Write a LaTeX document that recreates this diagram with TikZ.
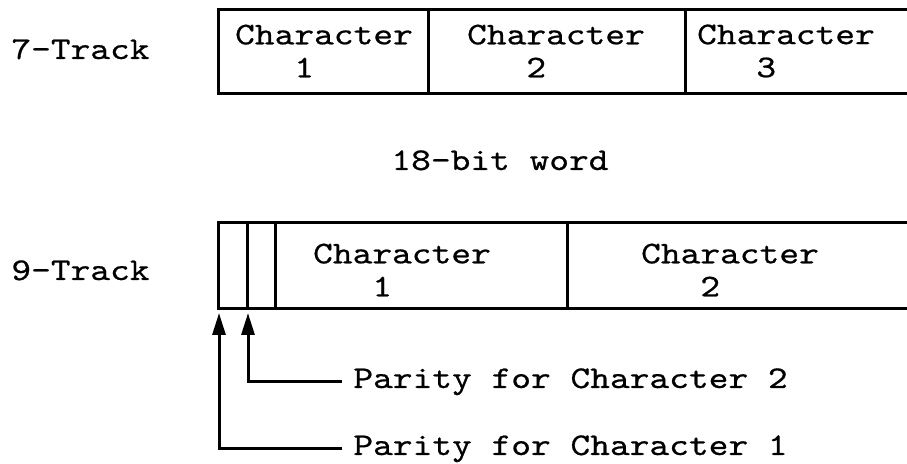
\documentclass[tikz,border=0pt]{standalone}
\usepackage{fontspec}
\setmonofont{lmmono10-regular.otf}[FakeStretch=1.19, FakeBold=0.6]
\usetikzlibrary{arrows.meta}

\begin{document}
\begin{tikzpicture}[x=0.5pt, y=-0.5pt,
    every node/.style={font=\ttfamily\fontsize{15.8}{16.5}\selectfont, inner sep=0pt},
    frame/.style={line width=1.5pt},
    cell/.style={align=left},
    track/.style={anchor=base west},
    parity/.style={anchor=base west, inner xsep=5.5pt},
    tap/.style={line width=1.5pt, -{Triangle[length=11pt, width=6.5pt]}}]

    \useasboundingbox (0,0) rectangle (907,464);

    % 7-track word: three characters
    \coordinate (t7nw) at (218,10);
    \coordinate (t7sw) at (218,94);
    \draw[frame] (907,10) -- (t7nw) -- (t7sw) -- (907,94);
    \draw[frame] (428,10) -- (428,94) (685,10) -- (685,94);
    \node[cell] (c71) at (324,51) {Character\\\hphantom{Cha}1};
    \node[cell] (c72) at (556,51) {Character\\\hphantom{Cha}2};
    \node[cell] (c73) at (786,51) {Character\\\hphantom{Cha}3};
    \node[track] (l7) at (11,59) {7-Track};

    \node[anchor=base] (word) at (500,170) {18-bit word};

    % 9-track word: two parity bits, two characters
    \coordinate (t9nw) at (218,223);
    \coordinate (t9sw) at (218,309);
    \draw[frame] (907,223) -- (t9nw) -- (t9sw) -- (907,309);
    \draw[frame] (247,223) -- (247,309) (275,223) -- (275,309)
        (567,223) -- (567,309);
    \node[cell] (c91) at (402,270) {Character\\\hphantom{Cha}1};
    \node[cell] (c92) at (730,270) {Character\\\hphantom{Cha}2};
    \node[track] (l9) at (11,280) {9-Track};

    % parity pointers
    \node[parity] (par2) at (342,388) {Parity for Character 2};
    \node[parity] (par1) at (342,455) {Parity for Character 1};
    \coordinate (p2tip) at (248,313);
    \coordinate (p1tip) at (219,313);
    \draw[tap] (par2.west) -| (p2tip);
    \draw[tap] (par1.west) -| (p1tip);
\end{tikzpicture}
\end{document}
